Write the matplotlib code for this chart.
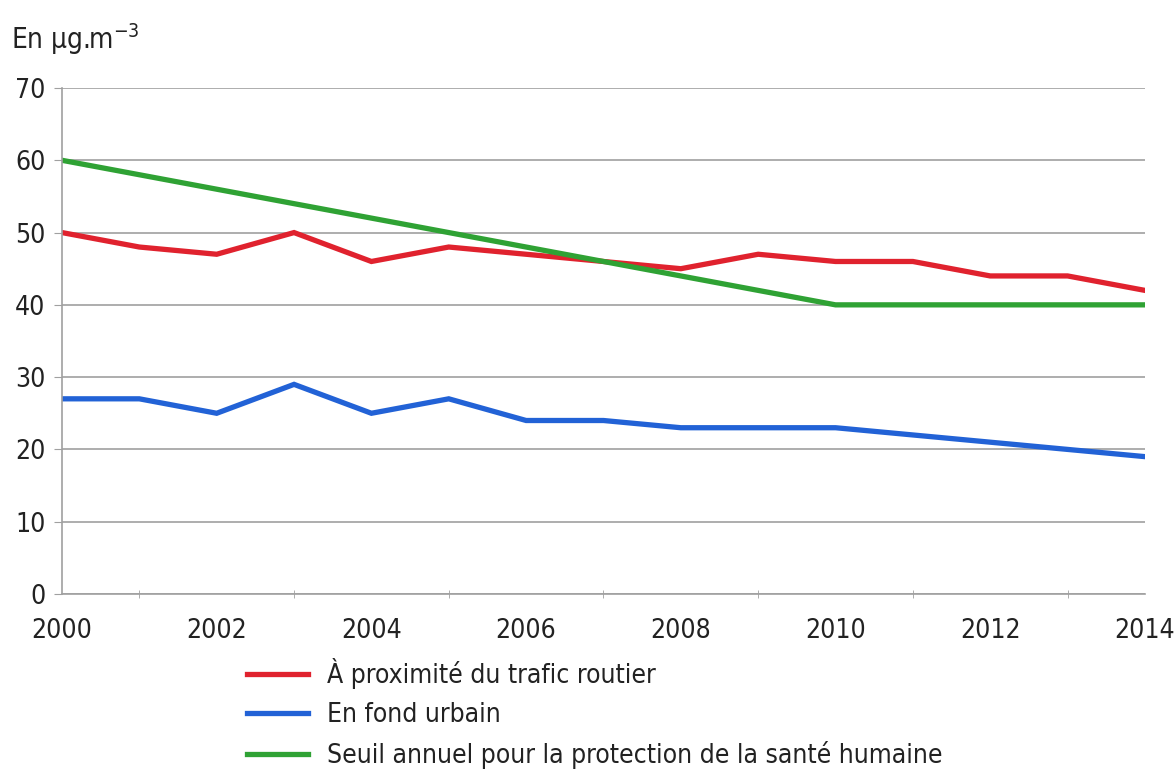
import matplotlib
matplotlib.use("Agg")
import matplotlib.pyplot as plt

plt.rcParams['font.family'] = ['DejaVu Sans']
plt.rcParams['font.stretch'] = 'condensed'

years = list(range(2000, 2015))
trafic = [50, 48, 47, 50, 46, 48, 47, 46, 45, 47, 46, 46, 44, 44, 42]
urbain = [27, 27, 25, 29, 25, 27, 24, 24, 23, 23, 23, 22, 21, 20, 19]
seuil = [60, 58, 56, 54, 52, 50, 48, 46, 44, 42, 40, 40, 40, 40, 40]
labels = ["À proximité du trafic routier", "En fond urbain",
          "Seuil annuel pour la protection de la santé humaine"]
colors = ["#e0222e", "#2262d6", "#2fa234"]

fig = plt.figure(figsize=(11.76, 7.72), dpi=100)
ax = fig.add_axes([0.0527, 0.2306, 0.9209, 0.6554])

for vals, lab, c in zip([trafic, urbain, seuil], labels, colors):
    ax.plot(years, vals, color=c, lw=3.8, label=lab, solid_joinstyle='miter')

ax.set_xlim(2000, 2014)
ax.set_ylim(0, 70)
ax.set_xticks(range(2000, 2015, 2))
ax.set_xticks(range(2000, 2015), minor=True)
ax.set_yticks(range(0, 71, 10))
ax.yaxis.grid(True, color="#a0a0a0", lw=1.2)
ax.set_axisbelow(True)
for s in ['top', 'right']:
    ax.spines[s].set_visible(False)
for s in ['left', 'bottom']:
    ax.spines[s].set_color("#a0a0a0")
    ax.spines[s].set_linewidth(1.2)
ax.tick_params(axis='both', which='both', color="#a0a0a0", labelsize=19,
               labelcolor="#222222")
ax.tick_params(axis='x', which='major', length=0, pad=17)
ax.tick_params(axis='x', which='minor', length=6, direction='inout')
ax.tick_params(axis='y', length=6, pad=6)

fig.text(0.009, 0.950, "En µg.m$^{-3}$", fontsize=20, color="#222222",
         va='center', ha='left')

fig.legend(loc='upper left', bbox_to_anchor=(0.210, 0.148), frameon=False,
           fontsize=19, handlelength=2.3, labelspacing=0.5, handletextpad=0.72,
           borderpad=0, borderaxespad=0, labelcolor="#222222")

fig.savefig("out.png", dpi=100)
